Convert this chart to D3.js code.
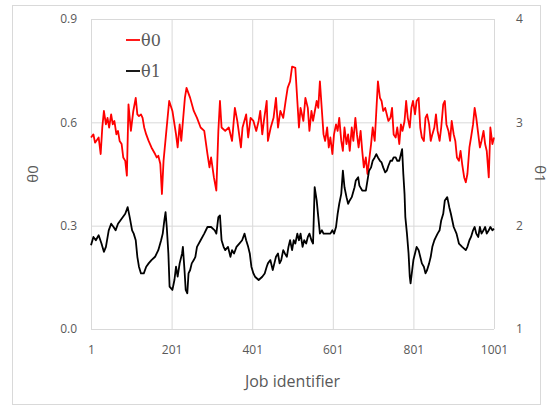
<!DOCTYPE html>
<html lang='en'>
<head>
  <meta charset="utf-8">
  <title>theta chart</title>
  <script src="https://d3js.org/d3.v7.min.js"></script>
  <style>
  body { margin: 0; background: #fff; }
  .tick text { fill: #595959; font-family: "Open Sans", "Liberation Sans", sans-serif; font-size: 12px; }
  .grid line { stroke: #d9d9d9; stroke-width: 1; }
  </style>
</head>
<body>
  <script>
    // theta0 (left axis)
    var jobs0 = [1,7,11,20,25,29,33,38,42,46,51,55,59,64,68,72,77,81,86,90,94,100,106,112,116,120,125,129,133,138,
      144,151,160,164,168,173,177,181,188,195,203,212,216,221,225,234,238,247,256,264,273,282,290,295,299,306,312,317,321,325,
      334,343,351,358,364,373,377,386,391,397,404,411,417,421,426,430,437,440,447,454,460,465,471,478,484,489,495,500,508,513,
      517,521,528,533,539,543,548,552,561,565,569,574,578,582,587,591,595,600,604,609,613,617,622,626,630,635,639,643,648,652,
      657,661,665,670,674,678,683,687,691,696,700,705,709,713,718,722,726,731,735,739,744,748,752,757,761,766,770,774,779,783,
      787,792,796,800,805,809,814,818,822,827,831,835,840,844,848,853,857,861,866,870,875,879,883,888,892,896,901,905,909,914,
      918,922,927,931,935,940,944,949,953,957,962,966,970,975,979,983,988,992,997,1001];
    var theta0 = [0.556,0.565,0.541,0.556,0.508,0.585,0.633,0.594,0.613,0.585,0.623,0.594,0.604,0.565,0.575,0.546,0.537,0.498,0.488,0.445,0.652,0.575,0.633,0.671,0.623,0.618,0.623,0.613,0.585,0.565,
      0.546,0.527,0.508,0.498,0.503,0.479,0.392,0.488,0.575,0.662,0.633,0.565,0.527,0.594,0.546,0.671,0.700,0.671,0.633,0.613,0.585,0.575,0.508,0.469,0.498,0.440,0.402,0.575,0.662,0.585,
      0.575,0.585,0.546,0.642,0.604,0.527,0.585,0.623,0.556,0.613,0.604,0.575,0.604,0.633,0.565,0.604,0.662,0.546,0.585,0.613,0.671,0.585,0.633,0.613,0.662,0.700,0.719,0.762,0.758,0.662,
      0.585,0.642,0.604,0.671,0.642,0.575,0.633,0.604,0.662,0.642,0.719,0.633,0.565,0.546,0.585,0.527,0.556,0.508,0.565,0.594,0.575,0.613,0.546,0.517,0.585,0.537,0.565,0.517,0.585,0.546,
      0.613,0.565,0.527,0.575,0.517,0.469,0.498,0.450,0.488,0.537,0.585,0.546,0.633,0.719,0.671,0.662,0.633,0.642,0.623,0.604,0.613,0.642,0.565,0.556,0.585,0.537,0.594,0.575,0.604,0.662,
      0.613,0.585,0.642,0.662,0.623,0.662,0.671,0.585,0.556,0.546,0.613,0.623,0.594,0.546,0.565,0.585,0.623,0.575,0.546,0.585,0.652,0.662,0.594,0.575,0.546,0.604,0.565,0.546,0.498,0.488,
      0.517,0.479,0.440,0.426,0.450,0.527,0.556,0.594,0.642,0.613,0.565,0.527,0.546,0.575,0.537,0.517,0.440,0.585,0.537,0.556];

    // theta1 (right axis)
    var jobs1 = [1,7,13,20,27,33,38,45,51,57,62,68,77,86,92,97,103,107,112,116,120,125,132,138,144,151,160,168,175,179,
      183,186,189,193,196,203,208,212,216,221,227,229,233,236,240,243,247,251,256,260,264,273,282,290,299,308,312,317,321,325,
      330,334,341,347,351,356,362,369,376,382,386,391,395,399,404,408,417,426,432,437,440,446,452,456,460,465,469,473,478,482,
      487,491,495,500,504,508,513,517,521,526,530,535,539,543,548,552,556,561,565,569,574,578,587,595,600,604,609,613,617,622,
      626,630,635,639,643,648,655,658,664,667,674,683,687,691,696,700,705,709,713,718,722,726,731,735,739,744,748,752,757,761,
      766,770,773,776,779,781,785,789,792,794,798,801,805,809,814,818,822,827,831,835,840,844,848,853,857,861,866,870,875,879,
      885,890,894,901,908,914,922,931,935,940,944,949,953,957,962,966,970,975,979,983,988,992,997,1001];
    var theta1 = [1.811,1.891,1.859,1.907,1.827,1.747,1.795,1.955,2.019,1.987,1.955,2.019,2.067,2.115,2.179,2.083,1.955,1.923,1.859,1.699,1.603,1.538,1.538,1.603,1.635,1.667,1.699,1.763,1.859,1.923,
      2.051,2.131,1.987,1.731,1.410,1.378,1.474,1.603,1.506,1.635,1.731,1.795,1.571,1.378,1.346,1.538,1.571,1.635,1.667,1.699,1.795,1.859,1.923,1.987,1.987,1.955,1.923,2.083,2.099,1.859,
      1.795,1.763,1.795,1.699,1.763,1.731,1.795,1.827,1.859,1.923,1.859,1.795,1.731,1.603,1.538,1.506,1.474,1.506,1.538,1.603,1.635,1.667,1.571,1.635,1.699,1.731,1.635,1.667,1.763,1.731,
      1.699,1.795,1.859,1.763,1.859,1.827,1.923,1.859,1.923,1.795,1.859,1.827,1.891,1.923,1.859,1.827,2.372,2.244,2.083,1.923,1.955,1.923,1.923,1.923,1.955,1.923,1.987,2.115,2.212,2.308,
      2.532,2.372,2.276,2.212,2.244,2.276,2.372,2.436,2.468,2.388,2.340,2.340,2.436,2.532,2.564,2.628,2.660,2.692,2.660,2.628,2.612,2.564,2.516,2.532,2.580,2.628,2.628,2.660,2.660,2.628,
      2.628,2.692,2.740,2.500,2.308,2.083,1.923,1.731,1.506,1.442,1.571,1.667,1.731,1.795,1.763,1.699,1.635,1.603,1.538,1.571,1.635,1.699,1.795,1.859,1.891,1.923,1.955,2.051,2.115,2.244,
      2.276,2.179,2.115,1.987,1.923,1.827,1.795,1.763,1.795,1.859,1.891,1.955,1.987,1.923,1.891,1.987,1.923,1.955,1.987,1.923,1.955,1.987,1.955,1.971];

    var xTicks = [1, 201, 401, 601, 801, 1001];
    var yLeftTicks = [0, 0.3, 0.6, 0.9];
    var yRightTicks = [1, 2, 3, 4];
    var seriesNames = ["\u03b80", "\u03b81"];
    var seriesColors = ["#ff0000", "#000000"];

    var width = 551, height = 408;
    var plotLeft = 91, plotRight = 494, plotTop = 19, plotBottom = 329;

    var svg = d3.select("body").append("svg")
      .attr("width", width)
      .attr("height", height);

    // outer frame
    svg.append("rect")
      .attr("x", 12.5).attr("y", 5.5)
      .attr("width", 528).attr("height", 399)
      .attr("fill", "#fff")
      .attr("stroke", "#d9d9d9");

    var x = d3.scaleLinear().domain([1, 1001]).range([plotLeft, plotRight]);
    var y0 = d3.scaleLinear().domain([0, 0.9]).range([plotBottom, plotTop]);
    var y1 = d3.scaleLinear().domain([1, 4]).range([plotBottom, plotTop]);

    // gridlines
    svg.append("g").attr("class", "grid")
      .attr("transform", "translate(0," + plotBottom + ")")
      .call(d3.axisBottom(x).tickValues(xTicks).tickSize(-(plotBottom - plotTop)).tickFormat(""))
      .call(function(g) { g.select(".domain").remove(); });
    svg.append("g").attr("class", "grid")
      .attr("transform", "translate(" + plotLeft + ",0)")
      .call(d3.axisLeft(y0).tickValues(yLeftTicks).tickSize(-(plotRight - plotLeft)).tickFormat(""))
      .call(function(g) { g.select(".domain").remove(); });

    // axes (labels only)
    svg.append("g")
      .attr("transform", "translate(0," + plotBottom + ")")
      .call(d3.axisBottom(x).tickValues(xTicks).tickSize(0).tickPadding(16).tickFormat(d3.format("d")))
      .call(function(g) { g.select(".domain").remove(); });
    svg.append("g")
      .attr("transform", "translate(" + plotLeft + ",0)")
      .call(d3.axisLeft(y0).tickValues(yLeftTicks).tickSize(0).tickPadding(14).tickFormat(d3.format(".1f")))
      .call(function(g) { g.select(".domain").remove(); });
    svg.append("g")
      .attr("transform", "translate(" + plotRight + ",0)")
      .call(d3.axisRight(y1).tickValues(yRightTicks).tickSize(0).tickPadding(22).tickFormat(d3.format("d")))
      .call(function(g) { g.select(".domain").remove(); });

    // lines
    var line0 = d3.line().x(function(d, i) { return x(jobs0[i]); }).y(function(d) { return y0(d); });
    var line1 = d3.line().x(function(d, i) { return x(jobs1[i]); }).y(function(d) { return y1(d); });

    svg.append("path").datum(theta0)
      .attr("d", line0).attr("fill", "none")
      .attr("stroke", seriesColors[0]).attr("stroke-width", 1.8)
      .attr("stroke-linejoin", "round");
    svg.append("path").datum(theta1)
      .attr("d", line1).attr("fill", "none")
      .attr("stroke", seriesColors[1]).attr("stroke-width", 1.8)
      .attr("stroke-linejoin", "round");

    // axis titles
    svg.append("text")
      .attr("transform", "translate(38," + ((plotTop + plotBottom) / 2) + ") rotate(-90)")
      .attr("text-anchor", "middle")
      .attr("fill", "#595959")
      .style("font-family", "'Open Sans', 'Liberation Sans', sans-serif")
      .style("font-size", "15px")
      .text("\u03b80");
    svg.append("text")
      .attr("transform", "translate(535," + ((plotTop + plotBottom) / 2) + ") rotate(90)")
      .attr("text-anchor", "middle")
      .attr("fill", "#595959")
      .style("font-family", "'Open Sans', 'Liberation Sans', sans-serif")
      .style("font-size", "15px")
      .text("\u03b81");
    svg.append("text")
      .attr("x", (plotLeft + plotRight) / 2)
      .attr("y", 387)
      .attr("text-anchor", "middle")
      .attr("fill", "#595959")
      .style("font-family", "'Open Sans', 'Liberation Sans', sans-serif")
      .style("font-size", "16px")
      .text("Job identifier");

    // legend
    var legend = svg.append("g").attr("transform", "translate(126,40)");
    seriesNames.forEach(function(name, i) {
      var row = legend.append("g").attr("transform", "translate(0," + (i * 31) + ")");
      row.append("line")
        .attr("x1", 0).attr("x2", 14)
        .attr("stroke", seriesColors[i]).attr("stroke-width", 1.8);
      row.append("text")
        .attr("x", 15).attr("y", 6)
        .attr("fill", "#595959")
        .style("font-family", "'DejaVu Serif', 'Liberation Serif', serif")
        .style("font-size", "16px")
        .text(name);
    });
  </script>
</body>
</html>
